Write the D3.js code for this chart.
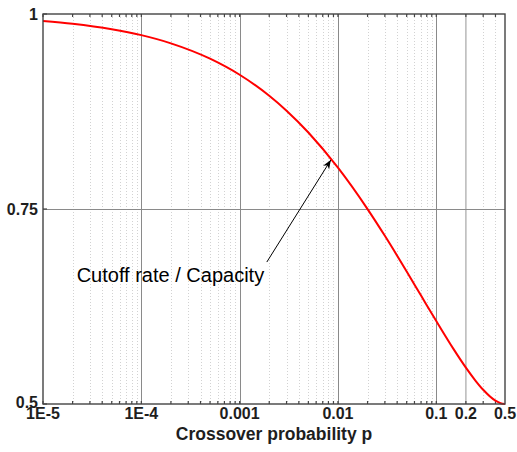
<!DOCTYPE html>
<html>
<head>
    <meta charset="utf-8">
    <title>Cutoff rate / Capacity</title>
    <style>
        body { margin: 0; background: #fff; font-family: "Liberation Sans", Arial, Helvetica, sans-serif; }
        .minor { stroke: #d2d2d2; stroke-width: 1px; stroke-dasharray: 1,2; }
        .major { stroke: #8a8a8a; stroke-width: 1px; }
        .light { stroke: #bdbdbd; stroke-width: 1.6px; }
        .box { fill: none; stroke: #444; stroke-width: 1.4px; }
        .tick { stroke: #444; stroke-width: 1.2px; }
        .lbl { font-weight: bold; font-size: 16px; fill: #1e1e1e; }
        .curve { fill: none; stroke: #ff0000; stroke-width: 2px; }
    </style>
    <script src="https://d3js.org/d3.v7.min.js"></script>
</head>
<body>
<svg id="chart"></svg>
<script>
    // crossover probability p and ratio R0/C
    var pValues = [1e-5, 2e-5, 5e-5, 1e-4, 2e-4, 5e-4, 0.001, 0.002, 0.003, 0.005,
                   0.01, 0.02, 0.03, 0.05, 0.07, 0.1, 0.15, 0.2, 0.25, 0.3, 0.4, 0.45, 0.5];
    var ratioValues = [0.9911, 0.9875, 0.9805, 0.9729, 0.9624, 0.9427, 0.9221, 0.8952, 0.8761, 0.8481,
                       0.8030, 0.7499, 0.7156, 0.6699, 0.6390, 0.6063, 0.5703, 0.5466, 0.5301, 0.5182, 0.5042, 0.5010, 0.5];

    var xTickValues = [1e-5, 1e-4, 0.001, 0.01, 0.1, 0.2, 0.5];
    var xTickLabels = ["1E-5", "1E-4", "0.001", "0.01", "0.1", "0.2", "0.5"];
    var xDecades = [1e-5, 1e-4, 0.001, 0.01, 0.1];
    var yTickValues = [0.5, 0.75, 1];
    var yTickLabels = ["0.5", "0.75", "1"];

    var xTitle = "Crossover probability p";
    var noteText = "Cutoff rate / Capacity";
    // annotation: text anchor, arrow start and arrow tip, in data units [p, ratio]
    var noteAt = [2.2e-5, 0.6565];
    var arrowFrom = [0.00189, 0.682];
    var arrowTo = [0.00846, 0.8128];

    var width = 517, height = 452,
        margin = {top: 14, right: 12, bottom: 48, left: 43};

    var svg = d3.select("#chart").attr("width", width).attr("height", height);

    var x = d3.scaleLog().domain([1e-5, 0.5]).range([margin.left, width - margin.right]),
        y = d3.scaleLinear().domain([0.5, 1]).range([height - margin.bottom, margin.top]);

    var yTop = margin.top, yBot = height - margin.bottom,
        xLeft = margin.left, xRight = width - margin.right;

    //minor positions 2..9 of every decade, up to 0.5
    var minors = [];
    xDecades.forEach(function(d) {
        for (var k = 2; k <= 9; k++) {
            var v = d * k;
            if (v < 0.5 - 1e-9) minors.push(v);
        }
    });

    var grid = svg.append("g");
    grid.selectAll("line.minor").data(minors.filter(function(v){ return v !== 0.2; })).enter()
        .append("line").attr("class", "minor")
        .attr("x1", function(d){ return Math.round(x(d)) + 0.5; })
        .attr("x2", function(d){ return Math.round(x(d)) + 0.5; })
        .attr("y1", yTop).attr("y2", yBot);
    grid.append("line").attr("class", "light")
        .attr("x1", x(0.2)).attr("x2", x(0.2)).attr("y1", yTop).attr("y2", yBot);
    grid.selectAll("line.major").data(xDecades.slice(1)).enter()
        .append("line").attr("class", "major")
        .attr("x1", function(d){ return Math.round(x(d)) + 0.5; })
        .attr("x2", function(d){ return Math.round(x(d)) + 0.5; })
        .attr("y1", yTop).attr("y2", yBot);
    grid.append("line").attr("class", "major")
        .attr("x1", xLeft).attr("x2", xRight)
        .attr("y1", Math.round(y(0.75)) + 0.5).attr("y2", Math.round(y(0.75)) + 0.5);

    //inward ticks top and bottom
    var tickPos = minors.concat(xDecades);
    var ticks = svg.append("g");
    ticks.selectAll("line.b").data(tickPos).enter().append("line").attr("class", "tick")
        .attr("x1", function(d){ return x(d); }).attr("x2", function(d){ return x(d); })
        .attr("y1", yBot).attr("y2", yBot - 3);
    ticks.selectAll("line.t").data(tickPos).enter().append("line").attr("class", "tick")
        .attr("x1", function(d){ return x(d); }).attr("x2", function(d){ return x(d); })
        .attr("y1", yTop).attr("y2", yTop + 3);
    ticks.selectAll("line.l").data(yTickValues).enter().append("line").attr("class", "tick")
        .attr("x1", xLeft).attr("x2", xLeft + 4)
        .attr("y1", function(d){ return y(d); }).attr("y2", function(d){ return y(d); });

    //curve
    var line = d3.line()
        .x(function(d){ return x(d[0]); })
        .y(function(d){ return y(d[1]); })
        .curve(d3.curveMonotoneX);
    svg.append("path").attr("class", "curve")
        .attr("d", line(d3.zip(pValues, ratioValues)));

    svg.append("rect").attr("class", "box")
        .attr("x", xLeft).attr("y", yTop).attr("width", xRight - xLeft).attr("height", yBot - yTop);

    //labels
    svg.append("g").selectAll("text").data(xTickValues).enter().append("text")
        .attr("class", "lbl").attr("text-anchor", "middle")
        .attr("x", function(d){ return x(d); }).attr("y", yBot + 14.5)
        .text(function(d, i){ return xTickLabels[i]; });
    svg.append("g").selectAll("text").data(yTickValues).enter().append("text")
        .attr("class", "lbl").attr("text-anchor", "end")
        .attr("x", xLeft - 5).attr("y", function(d){ return y(d) + (d === 0.5 ? 4 : 5.5); })
        .text(function(d, i){ return yTickLabels[i]; });
    svg.append("text").attr("class", "lbl").attr("text-anchor", "middle")
        .style("font-size", "17.5px")
        .attr("x", (xLeft + xRight) / 2).attr("y", height - 12)
        .text(xTitle);

    //annotation
    svg.append("defs").append("marker").attr("id", "head")
        .attr("viewBox", "0 0 10 10").attr("refX", 10).attr("refY", 5)
        .attr("markerWidth", 9).attr("markerHeight", 9).attr("orient", "auto")
        .attr("markerUnits", "userSpaceOnUse")
        .append("path").attr("d", "M0,1 L10,5 L0,9 L3,5 Z").attr("fill", "#000");
    svg.append("line")
        .attr("x1", x(arrowFrom[0])).attr("y1", y(arrowFrom[1]))
        .attr("x2", x(arrowTo[0])).attr("y2", y(arrowTo[1]))
        .attr("stroke", "#000").attr("stroke-width", 1)
        .attr("marker-end", "url(#head)");
    svg.append("text")
        .attr("x", x(noteAt[0])).attr("y", y(noteAt[1]))
        .style("font-size", "20px").attr("fill", "#000")
        .text(noteText);
</script>
</body>
</html>
